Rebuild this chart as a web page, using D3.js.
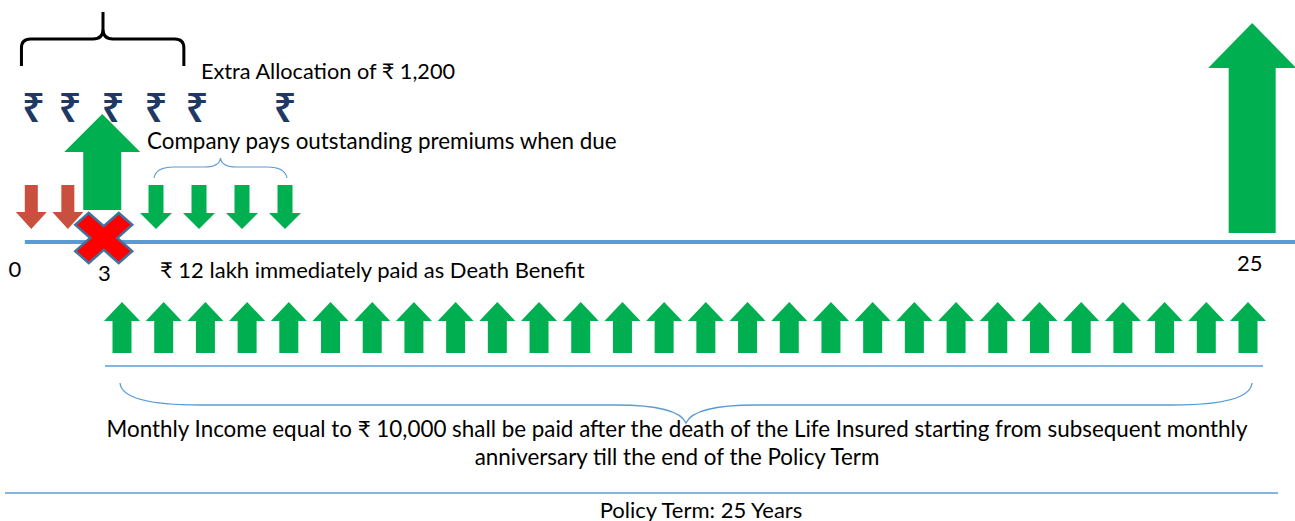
<!DOCTYPE html>
<html>
<head>
<meta charset="utf-8">
<script src="https://cdn.jsdelivr.net/npm/d3@7"></script>
<style>
  body { margin: 0; background: #fff; }
  text { font-family: Lato, "Open Sans", sans-serif; fill: #000; }
</style>
</head>
<body>
<svg width="1295" height="521"></svg>
<script>
// values (slot = premium slot on the timeline)
const premiumSlots = [0.1, 0.95];              // premiums paid before death (red)
const deathSlot = 1.75;                        // death of life insured
const companySlots = [3, 4, 5, 6];             // premiums paid by the company
const allocationSlots = [0.15, 1, 2, 3, 3.95, 6]; // extra allocation rupees
const incomeMonths = [1, 2, 3, 4, 5, 6, 7, 8, 9, 10, 11, 12, 13, 14,
    15, 16, 17, 18, 19, 20, 21, 22, 23, 24, 25, 26, 27, 28];
const maturityMonth = 28.1;
const yearLabels = ["0", "3", "25"];

const allocationText = "Extra Allocation of ₹ 1,200";
const companyText = "Company pays outstanding premiums when due";
const deathText = "₹ 12 lakh immediately paid as Death Benefit";
const incomeText = ["Monthly Income equal to ₹ 10,000 shall be paid after the death of the Life Insured starting from subsequent monthly",
    "anniversary till the end of the Policy Term"];
const termText = "Policy Term: 25 Years";

const green = "#00B050", red = "#C9503F", blue = "#5B9BD5", navy = "#1F3864";

const svg = d3.select("svg");
const slotX = d3.scaleLinear().domain([3, 6]).range([156, 285]);
const monthX = d3.scaleLinear().domain([1, 28]).range([122, 1248]);

// arrow outline, tip at tipY, head base at headY, tail at tailY
function arrow(cx, tipY, headY, tailY, headW, shaftW) {
    const p = d3.path();
    p.moveTo(cx, tipY);
    p.lineTo(cx + headW / 2, headY);
    p.lineTo(cx + shaftW / 2, headY);
    p.lineTo(cx + shaftW / 2, tailY);
    p.lineTo(cx - shaftW / 2, tailY);
    p.lineTo(cx - shaftW / 2, headY);
    p.lineTo(cx - headW / 2, headY);
    p.closePath();
    return p.toString();
}

// main timeline
svg.append("line")
    .attr("x1", slotX(-0.05)).attr("x2", 1295)
    .attr("y1", 242).attr("y2", 242)
    .attr("stroke", blue).attr("stroke-width", 4);

// premiums paid (red, down)
svg.append("g").selectAll("path")
    .data(premiumSlots)
    .join("path")
    .attr("d", d => arrow(slotX(d), 229, 212, 185, 31, 13))
    .attr("fill", red);

// premiums paid by company (green, down)
svg.append("g").selectAll("path")
    .data(companySlots)
    .join("path")
    .attr("d", d => arrow(slotX(d), 229, 213, 185, 32, 15))
    .attr("fill", green);

// death benefit arrow
svg.append("path")
    .attr("d", arrow(slotX(deathSlot), 114, 152, 210, 76, 38))
    .attr("fill", green);

// red cross at death
const L = 29, a = 9, sx = 1.06, sy = 0.93;
const plus = [[a, L], [a, a], [L, a], [L, -a], [a, -a], [a, -L], [-a, -L], [-a, -a], [-L, -a], [-L, a], [-a, a], [-a, L]];
const cx = slotX(deathSlot) + 1.5, cy = 238;
const cross = plus.map(([u, v]) => [cx + sx * (u - v) / Math.SQRT2, cy + sy * (u + v) / Math.SQRT2]);
svg.append("path")
    .attr("d", d3.line()(cross) + "Z")
    .attr("fill", "#FF0000")
    .attr("stroke", "#41719C")
    .attr("stroke-width", 2.5)
    .attr("stroke-linejoin", "miter");

// maturity arrow
svg.append("path")
    .attr("d", arrow(monthX(maturityMonth), 23, 68, 233, 88, 47))
    .attr("fill", green);

// year labels
const yearPos = [slotX(-0.28), slotX(1.8), monthX(28.04)];
const yearBase = [277, 281, 271];
svg.append("g").selectAll("text")
    .data(yearLabels)
    .join("text")
    .attr("x", (d, i) => yearPos[i])
    .attr("y", (d, i) => yearBase[i])
    .attr("text-anchor", "middle")
    .attr("font-size", 22)
    .text(d => d);

// rupee symbols
svg.append("g").selectAll("text")
    .data(allocationSlots)
    .join("text")
    .attr("x", d => slotX(d))
    .attr("y", 122)
    .attr("text-anchor", "middle")
    .attr("font-size", 40)
    .attr("font-weight", 600)
    .style("font-family", "'Noto Sans', sans-serif")
    .style("fill", navy)
    .text("₹");

// top black brace over first five rupees
const bx1 = slotX(allocationSlots[0]) - 12, bx2 = slotX(allocationSlots[4]) - 13;
const bm = slotX(allocationSlots[2]) - 10;
svg.append("path")
    .attr("d", `M${bx1},66 L${bx1},48 Q${bx1},39 ${bx1 + 9},39 L${bm - 10},39 Q${bm},39 ${bm},29 L${bm},12
                M${bm},12 L${bm},29 Q${bm},39 ${bm + 10},39 L${bx2 - 9},39 Q${bx2},39 ${bx2},48 L${bx2},66`)
    .attr("fill", "none").attr("stroke", "#000").attr("stroke-width", 3);

svg.append("text").attr("x", 201).attr("y", 79).attr("font-size", 21.7).text(allocationText);

// small blue brace over company arrows
const sx1 = slotX(companySlots[0]) - 2, sx2 = slotX(companySlots[3]) + 2;
const sm = (sx1 + sx2) / 2;
svg.append("path")
    .attr("d", `M${sx1},178 Q${sx1 + 2},167 ${sx1 + 20},167 L${sm - 16},167 Q${sm - 1},167 ${sm},158
                Q${sm + 1},167 ${sm + 16},167 L${sx2 - 20},167 Q${sx2 - 2},167 ${sx2},178`)
    .attr("fill", "none").attr("stroke", blue).attr("stroke-width", 1.2);

svg.append("text").attr("x", 147).attr("y", 149).attr("font-size", 22.4).text(companyText);
svg.append("text").attr("x", 160).attr("y", 278).attr("font-size", 22).text(deathText);

// monthly income arrows
svg.append("g").selectAll("path")
    .data(incomeMonths)
    .join("path")
    .attr("d", d => arrow(monthX(d), 302, 321, 353, 36, 19))
    .attr("fill", green);

svg.append("line")
    .attr("x1", monthX(1) - 17).attr("x2", monthX(28) + 15)
    .attr("y1", 366).attr("y2", 366)
    .attr("stroke", blue).attr("stroke-width", 1.5);

// big bottom brace
const ex1 = monthX(1) - 2, ex2 = monthX(28) + 4, em = (ex1 + ex2) / 2;
svg.append("path")
    .attr("d", `M${ex1},383 Q${ex1 + 2},405 ${ex1 + 80},405 L${em - 70},405 Q${em - 8},405 ${em},423
                Q${em + 8},405 ${em + 70},405 L${ex2 - 80},405 Q${ex2 - 2},405 ${ex2},383`)
    .attr("fill", "none").attr("stroke", blue).attr("stroke-width", 1.3);

svg.append("g").selectAll("text")
    .data(incomeText)
    .join("text")
    .attr("x", 677)
    .attr("y", (d, i) => 437 + i * 28)
    .attr("text-anchor", "middle")
    .attr("font-size", 22.4)
    .text(d => d);

// policy term
svg.append("line")
    .attr("x1", 5).attr("x2", 1278)
    .attr("y1", 493).attr("y2", 493)
    .attr("stroke", blue).attr("stroke-width", 1.5);

svg.append("text").attr("x", 701).attr("y", 518)
    .attr("text-anchor", "middle").attr("font-size", 22).text(termText);
</script>
</body>
</html>
